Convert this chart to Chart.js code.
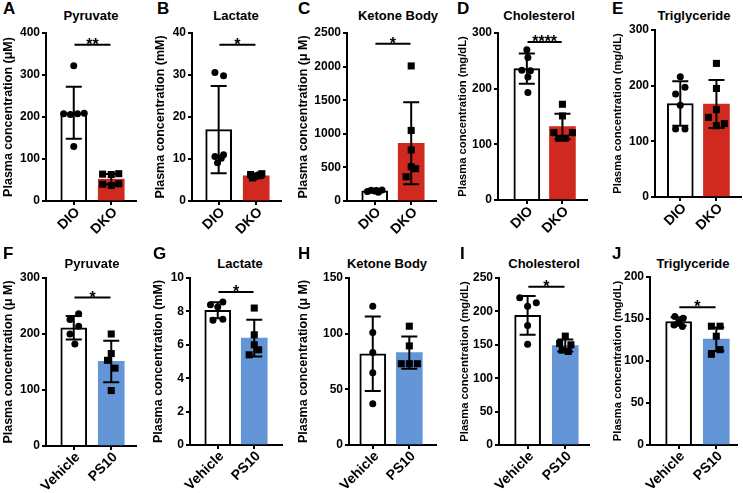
<!DOCTYPE html>
<html>
<head>
<meta charset="utf-8">
<script src="https://cdn.jsdelivr.net/npm/chart.js@4.4.1/dist/chart.umd.min.js"></script>
<style>
  body { margin: 0; background: #fff; }
  #fig { position: relative; width: 743px; height: 493px; overflow: hidden;
         font-family: "Liberation Sans", Arial, Helvetica, sans-serif; color: #000; }
  .letter { position: absolute; font-weight: bold; font-size: 17px; line-height: 17px; }
  .title { position: absolute; font-weight: bold; font-size: 13px; line-height: 13px;
           white-space: nowrap; transform: translateX(-50%); }
  canvas { position: absolute; }
</style>
</head>
<body>
<div id="fig"></div>
<script>
const FONT = '"Liberation Sans", Arial, Helvetica, sans-serif';
const RED = '#d02a20';
const BLUE = '#6496d7';

// groups on the x axis
const dioGroups = ['DIO', 'DKO'];
const vehicleGroups = ['Vehicle', 'PS10'];

const panelLetters = ['A', 'B', 'C', 'D', 'E', 'F', 'G', 'H', 'I', 'J'];
const panelTitles = ['Pyruvate', 'Lactate', 'Ketone Body', 'Cholesterol', 'Triglyceride',
                     'Pyruvate', 'Lactate', 'Ketone Body', 'Cholesterol', 'Triglyceride'];
const axisTitles = [
  'Plasma concentration (μM)', 'Plasma concentration (mM)', 'Plasma concentration (μ M)',
  'Plasma concentration (mg/dL)', 'Plasma concentration (mg/dL)',
  'Plasma concentration (μ M)', 'Plasma concentration (mM)', 'Plasma concentration (μ M)',
  'Plasma concentration (mg/dL)', 'Plasma concentration (mg/dL)'
];

// y axis ranges / tick steps
const yMax = [400, 40, 2500, 300, 300, 300, 10, 150, 250, 200];
const yStep = [100, 10, 500, 100, 100, 100, 2, 50, 50, 50];

// bar heights (mean) and error bars (SD), [control, treated]
const means = [[210, 52], [17, 6], [150, 860], [236, 132], [168, 167],
               [211, 151], [8.07, 6.4], [82, 83], [194, 149], [147, 126]];
const sds = [[62, 12], [10.4, 0.5], [20, 610], [27, 23], [40, 43],
             [21, 37], [0.48, 1.1], [33.5, 14.5], [29, 9], [5, 14]];

// individual animals
const controlPoints = [
  [322, 208, 206, 208, 209, 130],
  [30.6, 29.8, 10.6, 9.1, 10.2, 11.0],
  [140, 160, 150, 130, 165, 155],
  [270, 256, 233, 232, 221, 193],
  [216, 197, 185, 165, 122, 122],
  [236, 226, 214, 200, 182],
  [8.57, 8.4, 8.27, 7.53, 7.47],
  [124.6, 101, 83, 65, 37],
  [220.6, 213, 207.7, 179, 151],
  [153, 151, 146, 143, 141]
];
const treatedPoints = [
  [64, 63, 65, 40, 37, 41],
  [6.3, 5.8, 6.5, 5.5, 6.0, 6.2],
  [2010, 1050, 760, 510, 480, 360],
  [172, 151, 121, 121, 111, 111],
  [240, 195, 157, 143, 132, 128],
  [200, 165, 153, 139, 99],
  [8.2, 6.6, 6.0, 5.7, 5.4],
  [106.7, 89, 73, 73, 73],
  [163, 152, 150, 142, 140],
  [141.4, 141.4, 129.5, 113.5, 108]
];

// significance bar height and label
const sigLevel = [372, 37.2, 2340, 284, null, 265, 9.16, null, 237, 164];
const sigStars = ['**', '*', '*', '****', '', '*', '*', '', '*', '*'];

// horizontal scatter of the dots around each bar centre
const controlJitter = [
  [0, -0.27, -0.09, 0.1, 0.28, 0],
  [-0.1, 0.13, -0.1, -0.03, 0.07, 0.13],
  [-0.2, -0.1, 0, 0.1, 0.2, 0.05],
  [0, 0.03, -0.14, 0.1, 0.03, 0.03],
  [0, 0.13, -0.13, 0, -0.13, 0.13],
  [0.13, -0.1, 0.13, -0.1, 0.03],
  [0.14, -0.2, 0, 0.14, -0.13],
  [0, 0, 0, 0, 0],
  [-0.21, 0.23, 0, 0, 0],
  [-0.1, 0.12, 0, -0.12, 0.1]
];
const treatedJitter = [
  [-0.23, 0, 0.2, -0.23, 0, 0.2],
  [-0.15, -0.05, 0.15, -0.1, 0.05, 0.1],
  [0, 0, 0, 0, 0.12, -0.14],
  [0, 0, -0.24, 0.28, -0.1, 0.08],
  [0, 0, 0, -0.22, 0.22, 0],
  [0, 0, -0.1, 0.1, 0],
  [0, 0, 0, 0.12, -0.14],
  [0, 0, -0.22, 0, 0.22],
  [0, -0.15, 0.15, -0.08, 0.08],
  [-0.13, 0.1, 0, 0.1, -0.13]
];

// page layout of each panel (pixels)
const layout = [
  { axisX: 46,  endX: 137, topY: 33,  zeroY: 201, yw: 46, xMin: -0.74, xMax: 1.66, titleX: 91,  letterX: 3,   titleSize: 12.5 },
  { axisX: 192, endX: 282, topY: 33,  zeroY: 201, yw: 40, xMin: -0.71, xMax: 1.66, titleX: 236, letterX: 157, titleSize: 12.5 },
  { axisX: 347, endX: 437, topY: 33,  zeroY: 201, yw: 52, xMin: -0.76, xMax: 1.68, titleX: 398, letterX: 298, titleSize: 12.5 },
  { axisX: 498, endX: 588, topY: 33,  zeroY: 200, yw: 43, xMin: -0.81, xMax: 1.69, titleX: 539, letterX: 457, titleSize: 11.2 },
  { axisX: 655, endX: 742, topY: 30,  zeroY: 197, yw: 45, xMin: -0.70, xMax: 1.68, titleX: 694, letterX: 612, titleSize: 11.2 },
  { axisX: 46,  endX: 137, topY: 278, zeroY: 446, yw: 46, xMin: -0.74, xMax: 1.66, titleX: 92,  letterX: 3,   titleSize: 12.5 },
  { axisX: 190, endX: 283, topY: 278, zeroY: 445, yw: 40, xMin: -0.76, xMax: 1.76, titleX: 240, letterX: 153, titleSize: 12.5 },
  { axisX: 349, endX: 437, topY: 278, zeroY: 445, yw: 54, xMin: -0.65, xMax: 1.73, titleX: 387, letterX: 298, titleSize: 12.5 },
  { axisX: 499, endX: 590, topY: 278, zeroY: 445, yw: 42, xMin: -0.76, xMax: 1.63, titleX: 544, letterX: 460, titleSize: 11.2 },
  { axisX: 650, endX: 738, topY: 277, zeroY: 445, yw: 40, xMin: -0.76, xMax: 1.55, titleX: 693, letterX: 612, titleSize: 11.2 }
];

const PAD_TOP = 12, PAD_RIGHT = 4, X_AXIS_H = 46;
const fig = document.getElementById('fig');

function addText(cls, text, left, top) {
  const d = document.createElement('div');
  d.className = cls;
  d.textContent = text;
  d.style.left = left + 'px';
  d.style.top = top + 'px';
  fig.appendChild(d);
  return d;
}

// error bars, significance bracket and slanted group labels, placed through the chart scales
function makeOverlay(i, groups) {
  return {
    id: 'overlay' + i,
    afterDatasetsDraw(chart) {
      const { ctx, scales: { x, y } } = chart;
      ctx.save();
      ctx.strokeStyle = '#000';
      ctx.fillStyle = '#000';
      ctx.lineWidth = 2;
      means[i].forEach((m, g) => {
        const cx = x.getPixelForValue(g);
        const top = y.getPixelForValue(m + sds[i][g]);
        const bot = y.getPixelForValue(Math.max(m - sds[i][g], 0));
        ctx.beginPath();
        ctx.moveTo(cx, top); ctx.lineTo(cx, bot);
        ctx.moveTo(cx - 8, top); ctx.lineTo(cx + 8, top);
        ctx.moveTo(cx - 8, bot); ctx.lineTo(cx + 8, bot);
        ctx.stroke();
      });
      if (sigLevel[i] !== null) {
        const sy = y.getPixelForValue(sigLevel[i]);
        const x0 = x.getPixelForValue(0.02), x1 = x.getPixelForValue(0.98);
        ctx.beginPath();
        ctx.moveTo(x0, sy); ctx.lineTo(x1, sy);
        ctx.stroke();
        ctx.font = 'bold 16px ' + FONT;
        ctx.textAlign = 'center';
        ctx.textBaseline = 'alphabetic';
        ctx.fillText(sigStars[i], (x0 + x1) / 2, sy + 5);
      }
      ctx.restore();
    },
    afterDraw(chart) {
      const { ctx, scales: { x, y } } = chart;
      ctx.save();
      ctx.fillStyle = '#000';
      ctx.font = 'bold 14px ' + FONT;
      ctx.textAlign = 'right';
      ctx.textBaseline = 'middle';
      groups.forEach((label, g) => {
        ctx.save();
        ctx.translate(x.getPixelForValue(g) + 4, y.bottom + 9);
        ctx.rotate(-Math.PI / 4);
        ctx.fillText(label, 0, 0);
        ctx.restore();
      });
      ctx.restore();
    }
  };
}

layout.forEach((L, i) => {
  const row = i < 5 ? 0 : 1;
  const groups = row === 0 ? dioGroups : vehicleGroups;
  const fill = row === 0 ? RED : BLUE;

  addText('letter', panelLetters[i], L.letterX, row === 0 ? 0 : 245);
  addText('title', panelTitles[i], L.titleX, row === 0 ? 9 : 256.5);

  const canvas = document.createElement('canvas');
  const w = L.yw + (L.endX - L.axisX) + PAD_RIGHT;
  const h = PAD_TOP + (L.zeroY - L.topY) + X_AXIS_H;
  canvas.width = w;
  canvas.height = h;
  canvas.style.left = (L.axisX - L.yw) + 'px';
  canvas.style.top = (L.topY - PAD_TOP) + 'px';
  fig.appendChild(canvas);

  const ctrl = controlPoints[i].map((v, k) => ({ x: controlJitter[i][k], y: v }));
  const trt = treatedPoints[i].map((v, k) => ({ x: 1 + treatedJitter[i][k], y: v }));

  new Chart(canvas, {
    type: 'bar',
    data: {
      datasets: [
        { type: 'scatter', data: ctrl, pointStyle: 'circle', pointRadius: 3.5,
          backgroundColor: '#000', borderColor: '#000', borderWidth: 0, order: 0 },
        { type: 'scatter', data: trt, pointStyle: 'rect', pointRadius: 5,
          backgroundColor: '#000', borderColor: '#000', borderWidth: 0, order: 0 },
        { type: 'bar', data: [{ x: 0, y: means[i][0] }, { x: 1, y: means[i][1] }],
          backgroundColor: ['#ffffff', fill], borderColor: ['#000000', fill],
          borderWidth: [2, 0], barThickness: 26, order: 1 }
      ]
    },
    options: {
      responsive: false,
      animation: false,
      devicePixelRatio: 1,
      layout: { padding: { top: PAD_TOP, right: PAD_RIGHT, left: 0, bottom: 0 } },
      plugins: { legend: { display: false }, tooltip: { enabled: false } },
      scales: {
        x: {
          type: 'linear', min: L.xMin, max: L.xMax, offset: false, bounds: 'data',
          afterBuildTicks: s => { s.ticks = [{ value: 0 }, { value: 1 }]; },
          afterFit: s => { s.height = X_AXIS_H; },
          ticks: { display: false },
          grid: { display: true, offset: false, drawOnChartArea: false, drawTicks: true, tickLength: 4,
                  color: '#000', lineWidth: 2 },
          border: { display: true, color: '#000', width: 2 }
        },
        y: {
          min: 0, max: yMax[i],
          afterFit: s => { s.width = L.yw; },
          ticks: { stepSize: yStep[i], padding: 2, color: '#000', callback: v => String(v),
                   font: { family: FONT, size: 12, weight: 'bold' } },
          grid: { display: true, drawOnChartArea: false, drawTicks: true, tickLength: 4,
                  color: '#000', lineWidth: 2 },
          border: { display: true, color: '#000', width: 2 },
          title: { display: true, text: axisTitles[i], color: '#000', padding: { top: 1, bottom: 0 },
                   font: { family: FONT, size: L.titleSize, weight: 'bold' } }
        }
      }
    },
    plugins: [makeOverlay(i, groups)]
  });
});
</script>
</body>
</html>
